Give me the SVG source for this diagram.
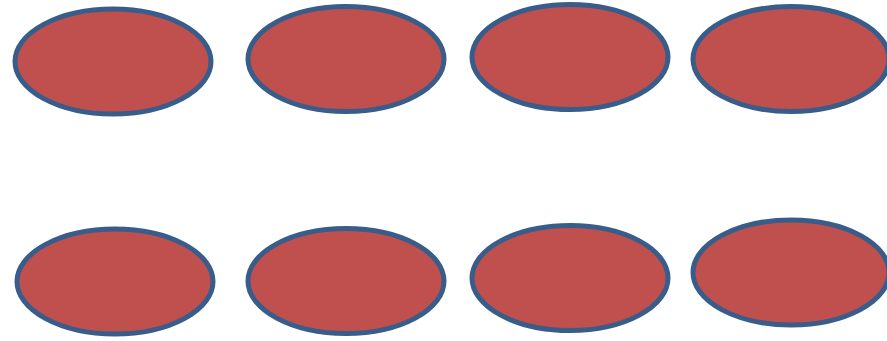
<svg xmlns="http://www.w3.org/2000/svg" width="887" height="341" viewBox="0 0 887 341">
<style>
.n{fill:#C0504D;stroke:#385D8A;stroke-width:5}
</style>
<rect width="887" height="341" fill="#FFFFFF"/>
<g id="node1"><ellipse class="n" cx="113" cy="61.5" rx="98" ry="52.5"/></g>
<g id="node2"><ellipse class="n" cx="346" cy="59" rx="98" ry="52.5"/></g>
<g id="node3"><ellipse class="n" cx="570" cy="57" rx="98" ry="52.5"/></g>
<g id="node4"><ellipse class="n" cx="791" cy="59" rx="98" ry="52.5"/></g>
<g id="node5"><ellipse class="n" cx="115" cy="281.5" rx="98" ry="52.5"/></g>
<g id="node6"><ellipse class="n" cx="346" cy="281" rx="98" ry="52.5"/></g>
<g id="node7"><ellipse class="n" cx="570" cy="278" rx="98" ry="52.5"/></g>
<g id="node8"><ellipse class="n" cx="791" cy="272.5" rx="98" ry="52.5"/></g>
<g id="connectors"></g>
</svg>
